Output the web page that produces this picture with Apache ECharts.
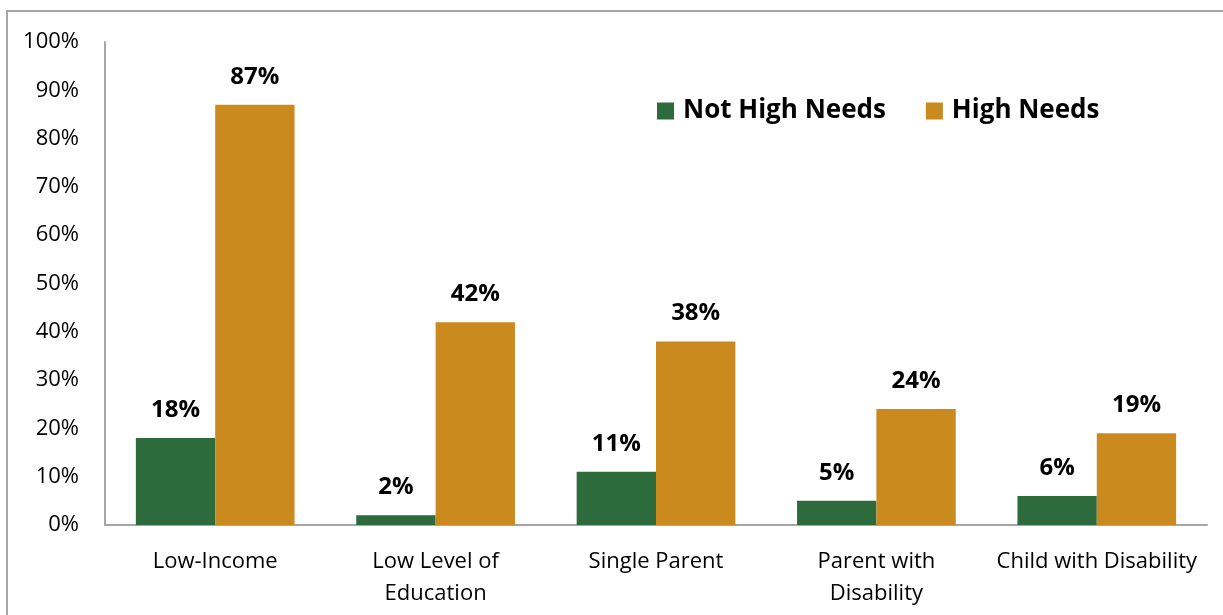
<!DOCTYPE html>
<html><head><meta charset="utf-8">
<script src="https://cdn.jsdelivr.net/npm/echarts@6/dist/echarts.min.js"></script>
<style>
html,body{margin:0;padding:0;background:#fff;}
#frame{position:absolute;left:6px;top:10px;width:1230px;height:620px;border:2px solid #a6a6a6;box-sizing:border-box;}
#c{position:absolute;left:0;top:0;width:1223px;height:615px;}
</style></head>
<body>
<div id="frame"></div>
<div id="c"></div>
<script>
const categories = ['Low-Income', 'Low Level of\nEducation', 'Single Parent', 'Parent with\nDisability', 'Child with Disability'];
const notHighNeeds = [18, 2, 11, 5, 6];
const highNeeds = [87, 42, 38, 24, 19];
const yTicks = [0, 10, 20, 30, 40, 50, 60, 70, 80, 90, 100];
const seriesNames = ['Not High Needs', 'High Needs'];

const FONT = '"Open Sans", Lato, sans-serif';
const chart = echarts.init(document.getElementById('c'));
const labelCfg = {
  show: true, position: 'top', distance: 16,
  formatter: p => p.value + '%',
  fontFamily: FONT, fontWeight: 'bold', fontSize: 24, color: '#000'
};
chart.setOption({
  animation: false,
  grid: { left: 105, right: 16, top: 42, bottom: 90 },
  legend: {
    data: seriesNames, left: 652, top: 93, itemWidth: 17, itemHeight: 17, itemGap: 40,
    icon: 'rect',
    textStyle: { fontFamily: FONT, fontWeight: 'bold', fontSize: 26, color: '#000', padding: [0, 0, 0, 4] }
  },
  xAxis: {
    type: 'category', data: categories,
    axisLine: { lineStyle: { color: '#a6a6a6', width: 2 } },
    axisTick: { show: false },
    axisLabel: { fontFamily: FONT, fontSize: 22, color: '#000', margin: 21, lineHeight: 32, interval: 0 }
  },
  yAxis: {
    type: 'value', min: 0, max: 100, interval: 10,
    axisLine: { show: true, lineStyle: { color: '#a6a6a6', width: 2 } },
    axisTick: { show: false },
    splitLine: { show: false },
    axisLabel: { fontFamily: FONT, fontSize: 22, color: '#000', margin: 26, formatter: v => yTicks.includes(v) ? v + '%' : '' }
  },
  series: [
    { name: seriesNames[0], type: 'bar', data: notHighNeeds, itemStyle: { color: '#2E6B3C' },
      barGap: '0%', barCategoryGap: '28%', label: labelCfg },
    { name: seriesNames[1], type: 'bar', data: highNeeds, itemStyle: { color: '#CA8A1E' },
      label: labelCfg }
  ]
});
</script>
</body></html>
